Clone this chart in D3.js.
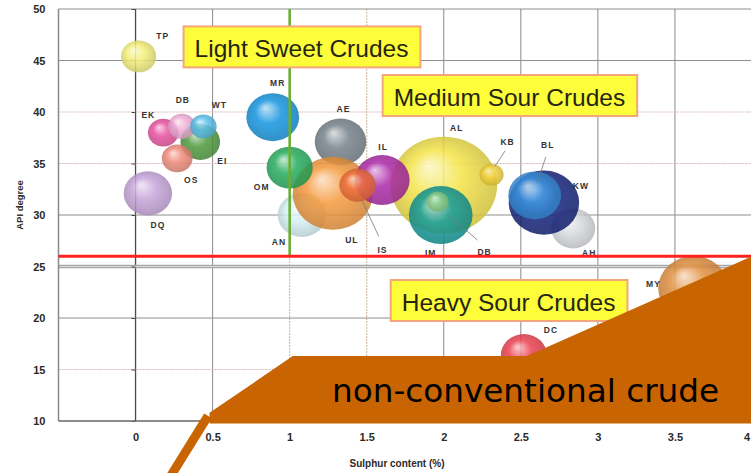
<!DOCTYPE html>
<html>
<head>
<meta charset="utf-8">
<script src="https://cdn.jsdelivr.net/npm/d3@7"></script>
<style>
  html, body { margin: 0; padding: 0; background: #ffffff; }
  svg { display: block; }
</style>
</head>
<body>
<svg id="chart" width="751" height="473"></svg>
<script>
// Crude grades: sulphur content (%), API gravity (degrees) and relative volume
const crudes     = ["TP", "DQ", "EI", "EK", "DB", "WT", "OS", "MR", "AE", "AN", "UL", "OM", "AL", "IL", "IS", "IM", "DB", "KB", "AH", "KW", "BL", "MY", "DC"];
const sulphur    = [0.02, 0.08, 0.42, 0.18, 0.30, 0.44, 0.27, 0.89, 1.33, 1.08, 1.28, 1.00, 2.00, 1.60, 1.44, 1.98, 1.96, 2.31, 2.84, 2.65, 2.59, 3.62, 2.52];
const apiGravity = [45.4, 32.1, 37.1, 38.0, 38.6, 38.6, 35.5, 39.5, 37.1, 30.0, 32.1, 34.6, 32.9, 33.4, 32.9, 30.0, 31.3, 33.9, 28.7, 31.2, 31.9, 22.9, 16.4];
const volume     = [10.2, 19.4, 13.0, 7.8, 6.3, 5.8, 7.8, 23.0, 22.0, 19.4, 53.3, 17.6, 94.0, 25.0, 10.9, 33.6, 4.0, 4.8, 16.0, 41.0, 23.0, 41.0, 17.6];

const xTicks = [0, 0.5, 1, 1.5, 2, 2.5, 3, 3.5, 4];
const yTicks = [10, 15, 20, 25, 30, 35, 40, 45, 50];

// Classification thresholds
const sweetLimit = 1;     // % sulphur
const lightLimit = 26;    // API degrees

const zoneNames  = ["Light Sweet Crudes", "Medium Sour Crudes", "Heavy Sour Crudes"];
const zoneAnchor = [[0.383, 45.3], [1.675, 40.58], [1.727, 20.68]];

const unconventionalLabel = "non-conventional crude";
const unconventionalZone  = [[0.48, 10.8], [1.02, 16.3], [2.54, 16.3], [4.0, 26.0], [4.0, 9.75], [0.48, 9.75]];
const unconventionalArrow = [[0.47, 10.5], [0.18, 3.5]];

// Bubble colours and label placement (pixel offsets from the bubble centre)
const colours = ["#f3ef7a", "#c6a4da", "#4f9a3e", "#e8509f", "#efb0d6", "#5bbfea", "#ef8a7a", "#1596df", "#76828a", "#d6f1f6",
                 "#f59a3e", "#27ad5e", "#f4e448", "#ad2aa8", "#f0703e", "#149c9c", "#8fd08a", "#f2d13e", "#d8dade", "#15247e",
                 "#3a92e0", "#e29040", "#ec4050"];
const labelOffset = [[24, -20], [10, 32], [22, 19], [-15, -18], [1, -26], [16, -21], [14, 22], [5, -34], [3, -33], [-23, 27],
                     [19, 47], [-28, 19], [13, -57], [1, -33], [25, 65], [-10, 38], [47, 50], [16, -33], [16, 25], [37, -17],
                     [13, -50], [-40, -4], [27, -25]];
const leader = [false, false, false, false, false, false, false, false, false, false,
                false, false, false, false, true, false, true, true, false, false,
                true, false, false];

const width = 751, height = 473;
const svg = d3.select("#chart");

const x = d3.scaleLinear().domain([-0.5, 4]).range([58.5, 752]);
const y = d3.scaleLinear().domain([10, 50]).range([421, 9]);
const r = d3.scaleSqrt().domain([0, 100]).range([0, 50]);

const defs = svg.append("defs");
const clip = defs.append("clipPath").attr("id", "plot-clip");
clip.append("rect").attr("x", x(-0.5)).attr("y", y(50)).attr("width", width - x(-0.5)).attr("height", y(10) - y(50));

// Grid
const grid = svg.append("g");
const dottedX = new Set([1, 1.5]);
const dottedY = new Set([15, 35, 40]);
grid.selectAll("line.vx").data(xTicks).join("line")
  .attr("x1", d => x(d)).attr("x2", d => x(d))
  .attr("y1", y(50)).attr("y2", y(10))
  .attr("stroke", d => d === 0 ? "#4a4a4a" : dottedX.has(d) ? "#c9b29c" : "#8a8a8a")
  .attr("stroke-width", d => d === 0 ? 1.3 : 1)
  .attr("stroke-dasharray", d => dottedX.has(d) ? "2,1" : null);
grid.selectAll("line.hy").data(yTicks.filter(d => d !== 25 && d !== 10)).join("line")
  .attr("x1", x(-0.5)).attr("x2", width)
  .attr("y1", d => y(d)).attr("y2", d => y(d))
  .attr("stroke", d => dottedY.has(d) ? "#d9b8b4" : "#8e8e8e")
  .attr("stroke-width", 1)
  .attr("stroke-dasharray", d => dottedY.has(d) ? "2,1" : null);
// API 25 line drawn as a double rule
grid.append("line")
  .attr("x1", x(-0.5)).attr("x2", width).attr("y1", y(25)).attr("y2", y(25))
  .attr("stroke", "#a8a8a8").attr("stroke-width", 3.5);
grid.append("line")
  .attr("x1", x(-0.5)).attr("x2", width).attr("y1", y(25)).attr("y2", y(25))
  .attr("stroke", "#d8d8d8").attr("stroke-width", 1.2);

// Small ticks on the zero-sulphur line
svg.append("g")
  .attr("transform", `translate(${x(0)},0)`)
  .call(d3.axisLeft(y).tickValues(yTicks).tickSize(4).tickFormat(""))
  .call(g => g.select(".domain").remove())
  .call(g => g.selectAll("line").attr("stroke", "#444"));

// Frame
svg.append("line").attr("x1", x(-0.5)).attr("x2", x(-0.5)).attr("y1", y(50)).attr("y2", y(10)).attr("stroke", "#8a8a8a").attr("stroke-width", 1.5);
svg.append("line").attr("x1", x(-0.5)).attr("x2", width).attr("y1", y(10)).attr("y2", y(10)).attr("stroke", "#666").attr("stroke-width", 1.6);

// Axes labels
const tickFont = "'Liberation Sans Narrow', 'Arial Narrow', sans-serif";
svg.append("g")
  .attr("transform", `translate(${x(-0.5)},0)`)
  .call(d3.axisLeft(y).tickValues(yTicks).tickSize(0).tickPadding(13))
  .call(g => g.select(".domain").remove())
  .call(g => g.selectAll("text").attr("font-family", tickFont).attr("font-weight", "bold").attr("font-size", 11).attr("fill", "#2a2a2a"));
svg.append("g")
  .attr("transform", `translate(0,${y(10)})`)
  .call(d3.axisBottom(x).tickValues(xTicks).tickSize(0).tickPadding(12).tickFormat(d3.format("")))
  .call(g => g.select(".domain").remove())
  .call(g => g.selectAll("text")
    .attr("font-family", tickFont).attr("font-weight", "bold").attr("font-size", 11).attr("fill", "#2a2a2a")
    .attr("text-anchor", d => d === 4 ? "end" : "middle")
    .attr("dx", d => d === 4 ? -2.5 : 0));

svg.append("text")
  .attr("transform", "translate(23,205) rotate(-90)")
  .attr("text-anchor", "middle")
  .attr("font-family", tickFont).attr("font-weight", "bold").attr("font-size", 9.5).attr("fill", "#2a2a2a")
  .text("API degree");
svg.append("text")
  .attr("x", 397).attr("y", 467)
  .attr("text-anchor", "middle")
  .attr("font-family", tickFont).attr("font-weight", "bold").attr("font-size", 10).attr("fill", "#2a2a2a")
  .text("Sulphur content (%)");

// Bubbles
const items = crudes.map((c, i) => ({
  code: c, s: sulphur[i], api: apiGravity[i], vol: volume[i],
  colour: colours[i], off: labelOffset[i], leader: leader[i], i
}));

items.forEach(d => {
  const g = defs.append("radialGradient").attr("id", "grad" + d.i)
    .attr("cx", "50%").attr("cy", "50%").attr("r", "55%").attr("fx", "36%").attr("fy", "30%");
  g.append("stop").attr("offset", "0%").attr("stop-color", d3.interpolateRgb(d.colour, "#ffffff")(0.7));
  g.append("stop").attr("offset", "45%").attr("stop-color", d.colour);
  g.append("stop").attr("offset", "100%").attr("stop-color", d3.rgb(d.colour).darker(0.55).formatHex());
});

const bubbles = svg.append("g").attr("clip-path", "url(#plot-clip)");
bubbles.selectAll("ellipse").data(items).join("ellipse")
  .attr("cx", d => x(d.s)).attr("cy", d => y(d.api))
  .attr("rx", d => r(d.vol) * 1.1).attr("ry", d => r(d.vol))
  .attr("fill", d => `url(#grad${d.i})`)
  .attr("fill-opacity", 0.86);

// Leader lines and codes
const labels = svg.append("g");
labels.selectAll("line").data(items.filter(d => d.leader)).join("line")
  .attr("x1", d => x(d.s) + d.off[0] * 0.85).attr("y1", d => y(d.api) + d.off[1] * 0.85 + (d.off[1] < 0 ? 4 : -4))
  .attr("x2", d => x(d.s) + d.off[0] * 0.2).attr("y2", d => y(d.api) + d.off[1] * 0.25)
  .attr("stroke", "#777").attr("stroke-width", 0.8);
labels.selectAll("text").data(items).join("text")
  .attr("x", d => x(d.s) + d.off[0]).attr("y", d => y(d.api) + d.off[1] + 3)
  .attr("text-anchor", "middle")
  .attr("font-family", "'Liberation Sans', Arial, sans-serif").attr("font-weight", "bold")
  .attr("font-size", 8.5).attr("letter-spacing", 1).attr("fill", "#333")
  .text(d => d.code);

// Threshold lines
svg.append("line")
  .attr("x1", x(sweetLimit)).attr("x2", x(sweetLimit))
  .attr("y1", y(50)).attr("y2", y(lightLimit))
  .attr("stroke", "#6aae36").attr("stroke-width", 2.6);
svg.append("line")
  .attr("x1", x(-0.5)).attr("x2", width)
  .attr("y1", y(lightLimit)).attr("y2", y(lightLimit))
  .attr("stroke", "#ff2020").attr("stroke-width", 3);

// Zone boxes
zoneNames.forEach((name, i) => {
  const g = svg.append("g");
  const t = g.append("text")
    .attr("x", x(zoneAnchor[i][0])).attr("y", y(zoneAnchor[i][1]))
    .attr("font-family", "'Liberation Sans', Arial, sans-serif")
    .attr("font-size", 24.5).attr("fill", "#262612")
    .text(name);
  const b = t.node().getBBox();
  g.insert("rect", "text")
    .attr("x", b.x - 11).attr("y", b.y - 9)
    .attr("width", b.width + 23).attr("height", b.height + 14)
    .attr("fill", "#fdfd3a").attr("stroke", "#f4a67a").attr("stroke-width", 2);
});

// Non-conventional region
svg.append("path")
  .attr("d", d3.line().x(d => x(d[0])).y(d => y(d[1]))(unconventionalZone) + "Z")
  .attr("fill", "#c86402");
svg.append("line")
  .attr("x1", x(unconventionalArrow[0][0])).attr("y1", y(unconventionalArrow[0][1]))
  .attr("x2", x(unconventionalArrow[1][0])).attr("y2", y(unconventionalArrow[1][1]))
  .attr("stroke", "#c86402").attr("stroke-width", 9);
svg.append("text")
  .attr("x", 332).attr("y", 402)
  .attr("font-family", "'DejaVu Sans', Verdana, sans-serif")
  .attr("font-size", 32.7).attr("fill", "#000")
  .text(unconventionalLabel);
</script>
</body>
</html>
